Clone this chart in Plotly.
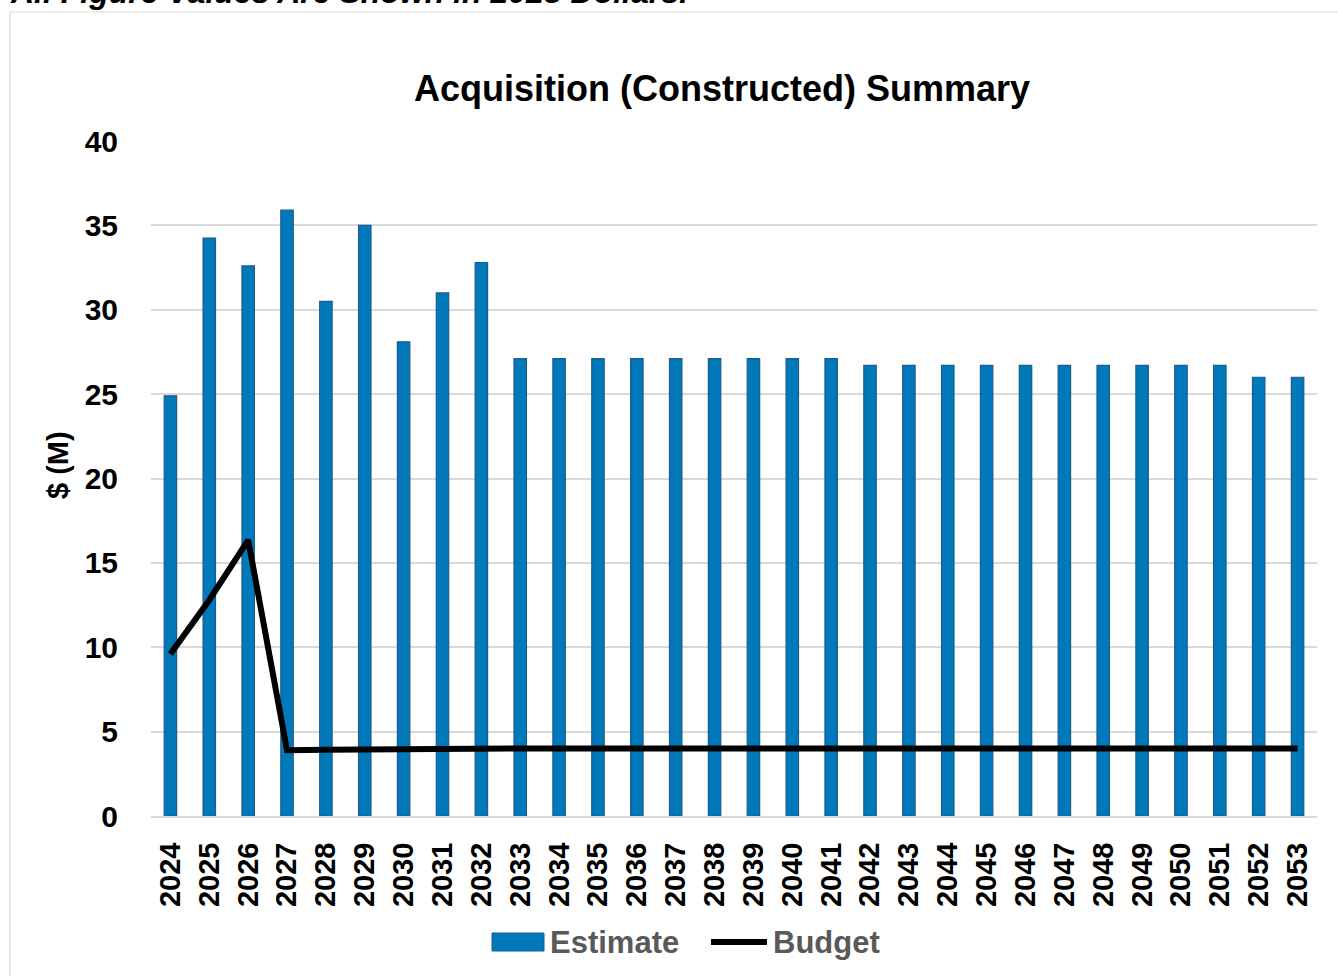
import plotly.graph_objects as go

years = [str(y) for y in range(2024, 2054)]
estimate = [24.9, 34.25, 32.6, 35.9, 30.5, 35.0, 28.1, 31.0, 32.8,
            27.1, 27.1, 27.1, 27.1, 27.1, 27.1, 27.1, 27.1, 27.1,
            26.7, 26.7, 26.7, 26.7, 26.7, 26.7, 26.7, 26.7, 26.7, 26.7,
            26.0, 26.0]
budget = [9.6, 12.8, 16.35, 3.9, 3.92, 3.95, 3.97, 3.99, 4.0,
          4.0, 4.0, 4.0, 4.0, 4.0, 4.0, 4.0, 4.0, 4.0,
          4.0, 4.0, 4.0, 4.0, 4.0, 4.0, 4.0, 4.0, 4.0, 4.0,
          4.0, 4.0]
y_ticks = [0, 5, 10, 15, 20, 25, 30, 35, 40]

W, H = 1338, 976
ML, MR, MT, MB = 151, 21, 141, 160
PW, PH = W - ML - MR, H - MT - MB

def px(x):
    return (x - ML) / PW

def py(y):
    return (H - MB - y) / PH

FONT = "Liberation Sans, Arial, sans-serif"
BAR_COLOR = "#0079BA"

fig = go.Figure()
fig.add_trace(go.Bar(
    x=years, y=estimate, name="Estimate", showlegend=False,
    marker=dict(color=BAR_COLOR, line=dict(color="#1F5A8C", width=1.2)),
    width=0.32,
))
fig.add_trace(go.Scatter(
    x=years, y=budget, name="Budget", mode="lines", showlegend=False,
    line=dict(color="black", width=6),
))

ann = [
    dict(text="<i>All Figure Values Are Shown in 2025 Dollars.</i>",
         x=px(8), y=py(-8), xanchor="left", yanchor="middle",
         font=dict(size=32, family=FONT, color="black", weight="bold")),
    dict(text="$ (M)", x=px(58), y=py(465), xanchor="center", yanchor="middle",
         textangle=-90,
         font=dict(size=29, family=FONT, color="black", weight="bold")),
    dict(text="Estimate", x=px(548), y=py(942), xanchor="left", yanchor="middle",
         font=dict(size=31, family=FONT, color="#595959", weight="bold")),
    dict(text="Budget", x=px(771), y=py(942), xanchor="left", yanchor="middle",
         font=dict(size=31, family=FONT, color="#595959", weight="bold")),
]
for a in ann:
    a.update(xref="paper", yref="paper", showarrow=False)

shapes = [
    dict(type="rect", xref="paper", yref="paper",
         x0=px(10), x1=px(1345), y0=py(985), y1=py(12),
         line=dict(color="#d9d9d9", width=1.2), fillcolor="rgba(0,0,0,0)",
         layer="below"),
    dict(type="rect", xref="paper", yref="paper",
         x0=px(492), x1=px(544), y0=py(951), y1=py(933),
         line=dict(color="#1F5A8C", width=1), fillcolor=BAR_COLOR),
    dict(type="line", xref="paper", yref="paper",
         x0=px(711), x1=px(767), y0=py(942), y1=py(942),
         line=dict(color="black", width=6)),
]

fig.update_layout(
    width=W, height=H,
    margin=dict(l=ML, r=MR, t=MT, b=MB),
    paper_bgcolor="white", plot_bgcolor="white",
    font=dict(family=FONT, color="black"),
    title=dict(text="Acquisition (Constructed) Summary",
               xref="container", x=722 / W, xanchor="center",
               yref="container", y=1 - 88 / H, yanchor="middle",
               font=dict(size=36, family=FONT, color="black", weight="bold")),
    showlegend=False,
    xaxis=dict(type="category", tickangle=-90, showgrid=False,
               tickfont=dict(size=29, family=FONT, color="black", weight="bold"),
               ticks="", ticklabelstandoff=13,
               showline=True, linecolor="#d9d9d9", linewidth=2),
    yaxis=dict(range=[0, 40], tickvals=y_ticks, showgrid=True,
               gridcolor="#d9d9d9", gridwidth=2, zeroline=False,
               tickfont=dict(size=30, family=FONT, color="black", weight="bold"),
               ticks="", ticklabelstandoff=32),
    shapes=shapes,
    annotations=ann,
)

fig.write_html("out.html", config={"displayModeBar": False},
               post_script="document.body.style.margin='0';")
